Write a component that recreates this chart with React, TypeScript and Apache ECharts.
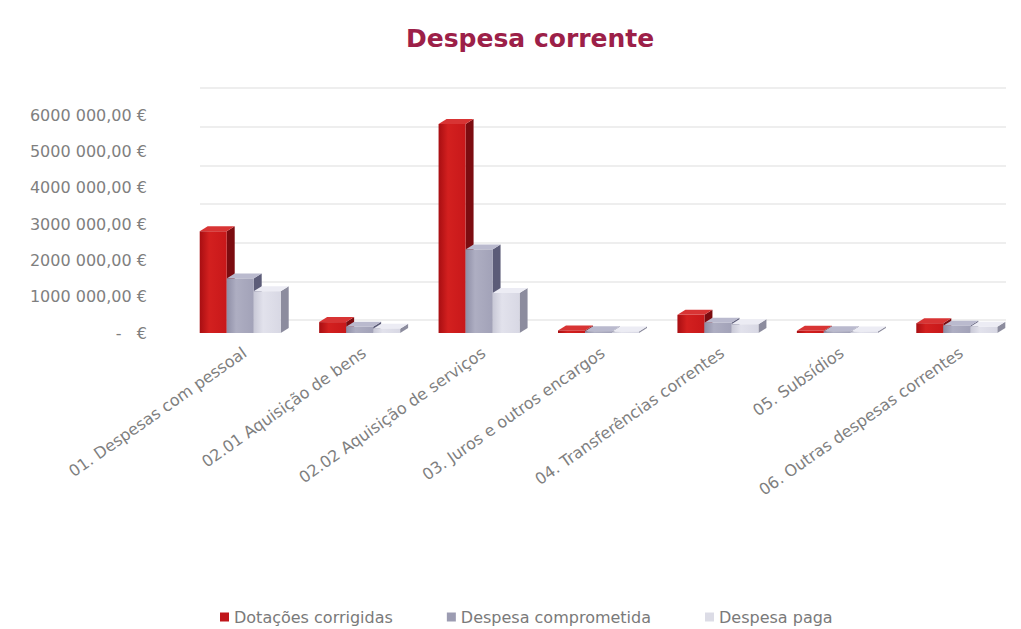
import React, { useEffect, useRef } from "react";
import * as echarts from "echarts";

const categories = [
  "01. Despesas com pessoal",
  "02.01 Aquisição de bens",
  "02.02 Aquisição de serviços",
  "03. Juros e outros encargos",
  "04. Transferências correntes",
  "05. Subsídios",
  "06. Outras despesas correntes",
];
const seriesNames = ["Dotações corrigidas", "Despesa comprometida", "Despesa paga"];
const dotacoesCorrigidas = [2800000, 300000, 5750000, 70000, 500000, 60000, 270000];
const despesaComprometida = [1500000, 170000, 2300000, 50000, 280000, 50000, 200000];
const despesaPaga = [1150000, 120000, 1100000, 40000, 240000, 40000, 170000];
const yMin = 0;
const yMax = 6000000;
const yInterval = 1000000;

const palettes = [
  { front: ["#a80e12", "#d3201f", "#c8181a"], side: "#7c0c10", top: "#d83434", legend: "#c0151a" },
  { front: ["#8e8ea6", "#aeaec2", "#a2a2b8"], side: "#5c5c78", top: "#babace", legend: "#9c9cb2" },
  { front: ["#c8c8d6", "#e2e2ec", "#d8d8e4"], side: "#8c8c9e", top: "#ececf4", legend: "#dcdce6" },
];

const W = 27;
const DX = 8;
const DY = 5;

function fmtEuro(v: number): string {
  if (v === 0) return "-   €";
  const th = Math.floor(v / 1000);
  const rest = Math.round(v % 1000);
  return `${th} ${String(rest).padStart(3, "0")},00 €`;
}

function makeRender(si: number) {
  const p = palettes[si];
  return (params: any, api: any) => {
    const idx = api.value(0);
    const v = api.value(1);
    const base = api.coord([idx, 0]);
    const topPt = api.coord([idx, v]);
    const x0 = base[0] - 45 + si * W;
    const yb = base[1];
    const yt = topPt[1];
    return {
      type: "group",
      children: [
        {
          type: "polygon",
          shape: {
            points: [
              [x0 + W, yt],
              [x0 + W + DX, yt - DY],
              [x0 + W + DX, yb - DY],
              [x0 + W, yb],
            ],
          },
          style: { fill: p.side },
        },
        {
          type: "polygon",
          shape: {
            points: [
              [x0, yt],
              [x0 + DX, yt - DY],
              [x0 + W + DX, yt - DY],
              [x0 + W, yt],
            ],
          },
          style: { fill: p.top },
        },
        {
          type: "rect",
          shape: { x: x0, y: yt, width: W, height: yb - yt },
          style: {
            fill: new echarts.graphic.LinearGradient(0, 0, 1, 0, [
              { offset: 0, color: p.front[0] },
              { offset: 0.35, color: p.front[1] },
              { offset: 1, color: p.front[2] },
            ]),
          },
        },
      ],
    };
  };
}

export default function App() {
  const ref = useRef<HTMLDivElement>(null);
  useEffect(() => {
    document.body.style.margin = "0";
    if (!ref.current) return;
    const chart = echarts.init(ref.current, null, { renderer: "svg" });
    const allSeries = [dotacoesCorrigidas, despesaComprometida, despesaPaga];
    chart.setOption({
      animation: false,
      backgroundColor: "#ffffff",
      title: {
        text: "Despesa corrente",
        left: 401,
        top: 21,
        textStyle: { fontFamily: "DejaVu Sans", fontWeight: "bold", fontSize: 25, color: "#9c2048" },
      },
      legend: {
        data: seriesNames.map((n, i) => ({ name: n, itemStyle: { color: palettes[i].legend } })),
        icon: "rect",
        itemWidth: 9,
        itemHeight: 9,
        itemGap: 54,
        left: 215,
        top: 604,
        textStyle: { fontFamily: "DejaVu Sans", fontSize: 16, color: "#7a7a7a" },
      },
      grid: [
        { left: 185, width: 840, top: 115, height: 218 },
        { left: 200, right: 15, top: 88, height: 232 },
      ],
      xAxis: [
        {
          type: "category",
          gridIndex: 0,
          data: categories,
          axisLine: { show: false },
          axisTick: { show: false },
          axisLabel: {
            rotate: 35,
            margin: 18,
            interval: 0,
            fontFamily: "DejaVu Sans",
            fontSize: 16,
            color: "#7f7f7f",
          },
        },
        { type: "value", gridIndex: 1, show: false, min: 0, max: 1 },
      ],
      yAxis: [
        {
          type: "value",
          gridIndex: 0,
          min: yMin,
          max: yMax,
          interval: yInterval,
          axisLine: { show: false },
          axisTick: { show: false },
          splitLine: { show: false },
          axisLabel: {
            margin: 38,
            fontFamily: "DejaVu Sans",
            fontSize: 16,
            color: "#7f7f7f",
            formatter: (v: number) => fmtEuro(v),
          },
        },
        {
          type: "value",
          gridIndex: 1,
          min: yMin,
          max: yMax,
          interval: yInterval,
          axisLine: { show: false },
          axisTick: { show: false },
          axisLabel: { show: false },
          splitLine: { show: true, lineStyle: { color: "#e8e8e8", width: 1.5 } },
        },
      ],
      series: allSeries.map((vals, si) => ({
        type: "custom",
        name: seriesNames[si],
        xAxisIndex: 0,
        yAxisIndex: 0,
        clip: false,
        itemStyle: { color: palettes[si].legend },
        renderItem: makeRender(si),
        encode: { x: 0, y: 1 },
        data: vals.map((v, i) => [i, v]),
      })),
    });
    return () => chart.dispose();
  }, []);
  return <div ref={ref} style={{ width: 1021, height: 629 }} />;
}
